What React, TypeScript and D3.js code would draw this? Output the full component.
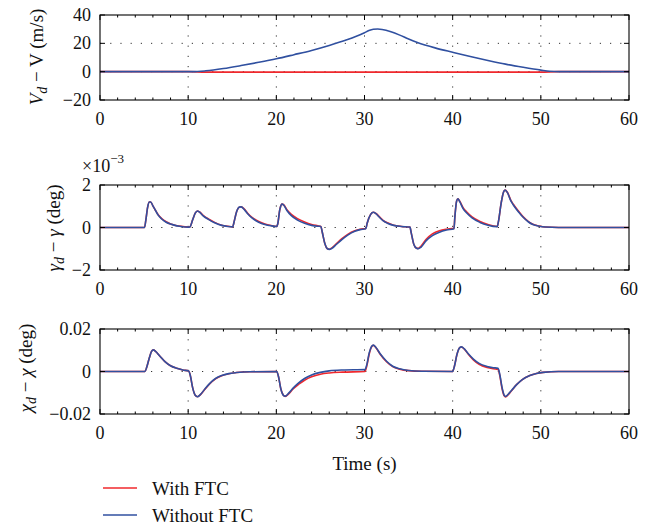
import React from "react";
import * as d3 from "d3";

const xTicks = [0, 10, 20, 30, 40, 50, 60];
const xMinor = [2, 4, 6, 8, 12, 14, 16, 18, 22, 24, 26, 28, 32, 34, 36, 38, 42, 44, 46, 48, 52, 54, 56, 58];

const velTicks = [-20, 0, 20, 40];
const velTickLabels = ["\u221220", "0", "20", "40"];
const gamTicks = [-2, 0, 2];
const gamTickLabels = ["\u22122", "0", "2"];
const chiTicks = [-0.02, 0, 0.02];
const chiTickLabels = ["\u22120.02", "0", "0.02"];

const seriesNames = ["With FTC", "Without FTC"];
const seriesColors = ["#f0282d", "#3050a0"];

const velRed: [number, number][] = [
  [0, 0], [10, 0], [12, -0.3], [30, -0.35], [50, -0.3], [52, 0], [60, 0],
];
const velBlue: [number, number][] = [
  [0, 0], [10.5, 0], [12, 0.6], [14, 2.2], [16, 4.3], [18, 6.6], [20, 9.1], [22, 12], [24, 15],
  [26, 18.5], [28, 22.5], [29, 24.8], [30, 27.5], [30.5, 29], [31, 29.9], [31.5, 30.1], [32, 29.8],
  [33, 28.2], [34, 25.8], [35, 23], [36, 20.6], [38, 16.8], [40, 13.7], [42, 10.7], [44, 7.9],
  [46, 5.3], [48, 3.1], [50, 1.1], [51, 0.25], [52, 0], [60, 0],
];

// gamma in units of 1e-3 deg
const gamBlue: [number, number][] = [
  [0, 0], [5.05, 0], [5.2, 0.35], [5.4, 0.95], [5.6, 1.2], [5.75, 1.2], [6.0, 1.02], [6.3, 0.8], [6.6, 0.58],
  [7.0, 0.4], [7.5, 0.25], [8.0, 0.16], [8.5, 0.1], [9.0, 0.06], [10.1, 0.02],
  [10.2, 0.03], [10.5, 0.35], [10.8, 0.68], [11.05, 0.78], [11.3, 0.72], [11.7, 0.55], [12.3, 0.38], [13, 0.22],
  [13.8, 0.1], [14.5, 0.05], [15.05, 0.03],
  [15.2, 0.25], [15.5, 0.75], [15.8, 0.96], [16.0, 0.97], [16.4, 0.83], [16.8, 0.62], [17.2, 0.46], [18, 0.25],
  [18.7, 0.14], [19.4, 0.08], [20.05, 0.05],
  [20.15, 0.15], [20.4, 0.85], [20.65, 1.1], [20.85, 1.05], [21.2, 0.8], [21.7, 0.56], [22.4, 0.35], [23.2, 0.2],
  [24, 0.1], [24.7, 0.06], [25.05, 0.05],
  [25.2, -0.2], [25.5, -0.75], [25.8, -1.0], [26.0, -1.03], [26.3, -0.98], [26.8, -0.8], [27.4, -0.58],
  [28.1, -0.36], [28.9, -0.18], [29.5, -0.1], [30.15, -0.06],
  [30.3, 0.2], [30.7, 0.62], [31.0, 0.72], [31.3, 0.65], [31.7, 0.48], [32.1, 0.32], [32.6, 0.2], [33.3, 0.1],
  [34.2, 0.05], [35.15, 0.02],
  [35.3, -0.25], [35.6, -0.8], [35.9, -0.98], [36.1, -1.0], [36.4, -0.93], [37.0, -0.62], [37.7, -0.38],
  [38.5, -0.22], [39.3, -0.12], [40.15, -0.06],
  [40.25, 0.5], [40.45, 1.25], [40.6, 1.35], [40.8, 1.22], [41.2, 0.88], [41.6, 0.68], [42.2, 0.45], [43.1, 0.24],
  [44, 0.11], [45.05, 0.04],
  [45.2, 0.3], [45.5, 1.15], [45.8, 1.7], [45.95, 1.76], [46.2, 1.65], [46.6, 1.25], [46.9, 1.05], [47.5, 0.72],
  [48, 0.48], [48.6, 0.26], [49.1, 0.14], [49.8, 0.06], [50.5, 0.02], [52, 0], [60, 0],
];
const gamRed: [number, number][] = [
  [0, 0], [5.05, 0], [5.2, 0.35], [5.4, 0.95], [5.6, 1.2], [5.75, 1.2], [6.0, 1.02], [6.3, 0.8], [6.6, 0.6],
  [7.0, 0.42], [7.5, 0.27], [8.0, 0.17], [8.5, 0.11], [9.0, 0.07], [10.1, 0.02],
  [10.2, 0.03], [10.5, 0.35], [10.8, 0.68], [11.05, 0.78], [11.3, 0.73], [11.7, 0.57], [12.3, 0.4], [13, 0.24],
  [13.8, 0.11], [14.5, 0.06], [15.05, 0.03],
  [15.2, 0.25], [15.5, 0.75], [15.8, 0.96], [16.0, 0.98], [16.4, 0.85], [16.8, 0.65], [17.2, 0.49], [18, 0.28],
  [18.7, 0.16], [19.4, 0.09], [20.05, 0.05],
  [20.15, 0.15], [20.4, 0.85], [20.65, 1.1], [20.85, 1.06], [21.2, 0.84], [21.7, 0.62], [22.4, 0.42], [23.2, 0.26],
  [24, 0.14], [24.7, 0.08], [25.05, 0.05],
  [25.2, -0.2], [25.5, -0.75], [25.8, -1.0], [26.0, -1.02], [26.3, -0.96], [26.8, -0.77], [27.4, -0.54],
  [28.1, -0.32], [28.9, -0.15], [29.5, -0.08], [30.15, -0.05],
  [30.3, 0.2], [30.7, 0.62], [31.0, 0.72], [31.3, 0.66], [31.7, 0.5], [32.1, 0.34], [32.6, 0.22], [33.3, 0.11],
  [34.2, 0.05], [35.15, 0.02],
  [35.3, -0.25], [35.6, -0.8], [35.9, -0.97], [36.1, -0.98], [36.4, -0.88], [37.0, -0.55], [37.7, -0.3],
  [38.5, -0.15], [39.3, -0.08], [40.15, -0.04],
  [40.25, 0.5], [40.45, 1.25], [40.6, 1.35], [40.8, 1.24], [41.2, 0.92], [41.6, 0.73], [42.2, 0.5], [43.1, 0.28],
  [44, 0.14], [45.05, 0.05],
  [45.2, 0.3], [45.5, 1.15], [45.8, 1.7], [45.95, 1.76], [46.2, 1.66], [46.6, 1.28], [46.9, 1.08], [47.5, 0.75],
  [48, 0.5], [48.6, 0.28], [49.1, 0.15], [49.8, 0.07], [50.5, 0.02], [52, 0], [60, 0],
];

const chiBlue: [number, number][] = [
  [0, 0], [5.1, 0], [5.3, 0.002], [5.6, 0.0065], [5.85, 0.0095], [6.05, 0.0102], [6.3, 0.0095], [6.8, 0.0072],
  [7.4, 0.0045], [8.0, 0.0027], [8.7, 0.0015], [9.4, 0.0007], [10.05, 0.0002],
  [10.25, -0.002], [10.5, -0.0075], [10.8, -0.0112], [11.05, -0.0119], [11.4, -0.0108], [11.9, -0.0082],
  [12.4, -0.0058], [13.1, -0.0033], [13.8, -0.0019], [14.6, -0.001], [15.5, -0.0005], [17, -0.0001], [20.05, 0],
  [20.25, -0.0025], [20.5, -0.008], [20.8, -0.0112], [21.0, -0.0116], [21.4, -0.0102], [21.9, -0.0078],
  [22.5, -0.0055], [23.2, -0.0033], [24, -0.0016], [25, -0.0004], [26, 0.0003], [27.5, 0.0007], [30.05, 0.0009],
  [30.25, 0.003], [30.55, 0.009], [30.8, 0.0118], [31.0, 0.0124], [31.3, 0.0113], [31.8, 0.0082], [32.5, 0.0048],
  [33.2, 0.0025], [34, 0.0013], [35, 0.0005], [36.5, 0.0001], [40.0, 0],
  [40.2, 0.0025], [40.5, 0.0082], [40.8, 0.0112], [41.0, 0.0116], [41.35, 0.0105], [41.8, 0.0082],
  [42.35, 0.0058], [43, 0.0038], [43.9, 0.0024], [44.6, 0.0018], [45.15, 0.0015],
  [45.35, -0.0015], [45.6, -0.0075], [45.85, -0.0112], [46.0, -0.0117], [46.3, -0.0107], [46.7, -0.0088],
  [47.25, -0.0062], [47.9, -0.0038], [48.75, -0.0019], [49.5, -0.0009], [50.25, -0.0004], [52, 0], [60, 0],
];
const chiRed: [number, number][] = [
  [0, 0], [5.1, 0], [5.3, 0.002], [5.6, 0.0065], [5.85, 0.0095], [6.05, 0.0102], [6.3, 0.0095], [6.8, 0.0072],
  [7.4, 0.0045], [8.0, 0.0027], [8.7, 0.0015], [9.4, 0.0007], [10.05, 0.0002],
  [10.25, -0.002], [10.5, -0.0075], [10.8, -0.0112], [11.05, -0.0119], [11.4, -0.0109], [11.9, -0.0084],
  [12.4, -0.006], [13.1, -0.0035], [13.8, -0.002], [14.6, -0.0011], [15.5, -0.0005], [17, -0.0001], [20.05, 0],
  [20.25, -0.0025], [20.5, -0.008], [20.8, -0.0112], [21.0, -0.0117], [21.4, -0.0105], [21.9, -0.0082],
  [22.5, -0.0061], [23.2, -0.0041], [24, -0.0025], [25, -0.0013], [26, -0.0007], [27.5, -0.0003], [30.05, 0],
  [30.25, 0.0025], [30.55, 0.0085], [30.8, 0.0116], [31.0, 0.0123], [31.3, 0.0112], [31.8, 0.008], [32.5, 0.0046],
  [33.2, 0.0023], [34, 0.0011], [35, 0.0004], [36.5, 0.0001], [40.0, 0],
  [40.2, 0.0025], [40.5, 0.0082], [40.8, 0.0112], [41.0, 0.0115], [41.35, 0.0104], [41.8, 0.008],
  [42.35, 0.0055], [43, 0.0034], [43.9, 0.0019], [44.6, 0.0013], [45.15, 0.001],
  [45.35, -0.002], [45.6, -0.008], [45.85, -0.0115], [46.0, -0.012], [46.3, -0.0109], [46.7, -0.0089],
  [47.25, -0.0062], [47.9, -0.0038], [48.75, -0.0019], [49.5, -0.0009], [50.25, -0.0004], [52, 0], [60, 0],
];

const FONT = "'Liberation Serif', 'Times New Roman', serif";
const X0 = 100;
const X1 = 629;

type PanelProps = {
  top: number;
  bottom: number;
  domain: [number, number];
  ticks: number[];
  tickLabels: string[];
  grid: number[];
  red: [number, number][];
  blue: [number, number][];
};

function Panel({ top, bottom, domain, ticks, tickLabels, grid, red, blue }: PanelProps) {
  const x = d3.scaleLinear().domain([0, 60]).range([X0, X1]);
  const y = d3.scaleLinear().domain(domain).range([bottom, top]);
  const line = d3
    .line<[number, number]>()
    .x((d) => x(d[0]))
    .y((d) => y(d[1]))
    .curve(d3.curveMonotoneX);
  const dots = "1.2 9";
  return (
    <g>
      {xTicks.slice(1, -1).map((t) => (
        <line key={"vg" + t} x1={x(t)} x2={x(t)} y1={top} y2={bottom} stroke="#333" strokeWidth={1} strokeDasharray={dots} />
      ))}
      {grid.map((v) => (
        <line key={"hg" + v} x1={X0} x2={X1} y1={y(v)} y2={y(v)} stroke="#333" strokeWidth={1} strokeDasharray={dots} />
      ))}
      <path d={line(red) || ""} fill="none" stroke={seriesColors[0]} strokeWidth={1.6} />
      <path d={line(blue) || ""} fill="none" stroke={seriesColors[1]} strokeWidth={1.6} />
      <rect x={X0} y={top} width={X1 - X0} height={bottom - top} fill="none" stroke="#000" strokeWidth={1.1} />
      {xTicks.map((t) => (
        <g key={"xt" + t}>
          <line x1={x(t)} x2={x(t)} y1={bottom} y2={bottom - 5} stroke="#000" />
          <line x1={x(t)} x2={x(t)} y1={top} y2={top + 5} stroke="#000" />
          <text x={x(t)} y={bottom + 25} textAnchor="middle" fontFamily={FONT} fontSize={18} fill="#111">
            {t}
          </text>
        </g>
      ))}
      {xMinor.map((t) => (
        <g key={"xm" + t}>
          <line x1={x(t)} x2={x(t)} y1={bottom} y2={bottom - 2.5} stroke="#000" />
          <line x1={x(t)} x2={x(t)} y1={top} y2={top + 2.5} stroke="#000" />
        </g>
      ))}
      {ticks.map((v, i) => (
        <g key={"yt" + v}>
          <line x1={X0} x2={X0 + 5} y1={y(v)} y2={y(v)} stroke="#000" />
          <line x1={X1} x2={X1 - 5} y1={y(v)} y2={y(v)} stroke="#000" />
          <text x={91} y={y(v) + 6} textAnchor="end" fontFamily={FONT} fontSize={18} fill="#111">
            {tickLabels[i]}
          </text>
        </g>
      ))}
    </g>
  );
}

function YLabel({ cx, cy, sym, symItalic2, unit }: { cx: number; cy: number; sym: string; symItalic2: boolean; unit: string }) {
  return (
    <text transform={`translate(${cx},${cy}) rotate(-90)`} textAnchor="middle" fontFamily={FONT} fontSize={19} fill="#111">
      <tspan fontStyle="italic">{sym}</tspan>
      <tspan fontStyle="italic" fontSize={14} dy={4}>d</tspan>
      <tspan dy={-4}>{" \u2212 "}</tspan>
      <tspan fontStyle={symItalic2 ? "italic" : "normal"}>{sym}</tspan>
      <tspan>{" (" + unit + ")"}</tspan>
    </text>
  );
}

export default function App() {
  return (
    <svg width={660} height={527} style={{ position: "absolute", left: 0, top: 0, background: "#fff" }}>
      <rect width={660} height={527} fill="#fff" />
      <Panel top={15} bottom={100} domain={[-20, 40]} ticks={velTicks} tickLabels={velTickLabels} grid={[20, 0]} red={velRed} blue={velBlue} />
      <Panel top={185} bottom={270} domain={[-2, 2]} ticks={gamTicks} tickLabels={gamTickLabels} grid={[0]} red={gamRed} blue={gamBlue} />
      <Panel top={329} bottom={414} domain={[-0.02, 0.02]} ticks={chiTicks} tickLabels={chiTickLabels} grid={[0]} red={chiRed} blue={chiBlue} />

      <YLabel cx={43} cy={57} sym="V" symItalic2={false} unit="m/s" />
      <YLabel cx={60} cy={228} sym={"\u03b3"} symItalic2={true} unit="deg" />
      <YLabel cx={32} cy={368} sym={"\u03c7"} symItalic2={true} unit="deg" />

      <text x={82} y={172} fontFamily={FONT} fontSize={18} fill="#111">
        {"\u00d710"}
        <tspan fontSize={13} dy={-9}>{"\u22123"}</tspan>
      </text>

      <text x={364.5} y={470} textAnchor="middle" fontFamily={FONT} fontSize={19} fill="#111">
        Time (s)
      </text>

      {seriesNames.map((name, i) => (
        <g key={name}>
          <line x1={103} x2={137} y1={488 + i * 27} y2={488 + i * 27} stroke={seriesColors[i]} strokeWidth={1.6} />
          <text x={152} y={495 + i * 27} fontFamily={FONT} fontSize={19} fill="#111">
            {name}
          </text>
        </g>
      ))}
    </svg>
  );
}
